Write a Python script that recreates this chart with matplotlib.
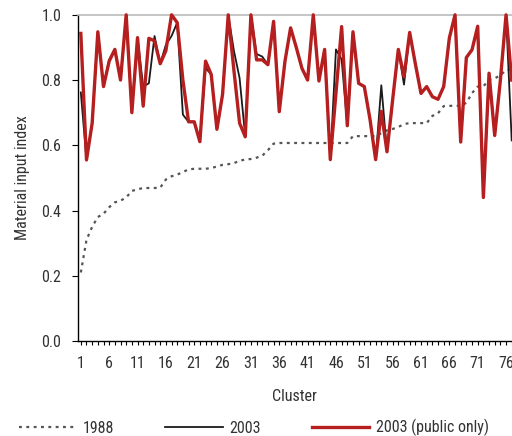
import matplotlib
matplotlib.use("Agg")
import matplotlib.pyplot as plt
from matplotlib import font_manager
from matplotlib.lines import Line2D

# pick a narrow sans if one is installed, otherwise fall back
names = {f.name for f in font_manager.fontManager.ttflist}
family = "DejaVu Sans"
for cand in ["Liberation Sans Narrow", "Roboto Condensed", "Open Sans Condensed", "Roboto"]:
    if cand in names:
        family = cand
        break
plt.rcParams["font.family"] = [family, "DejaVu Sans"]
plt.rcParams["font.size"] = 11.5

clusters = list(range(1, 78))

idx_1988 = [
    0.21, 0.31, 0.35, 0.38, 0.39, 0.41, 0.425, 0.43, 0.44, 0.46,
    0.465, 0.469, 0.469, 0.469, 0.47, 0.495, 0.505, 0.51, 0.518, 0.526,
    0.528, 0.528, 0.528, 0.53, 0.535, 0.54, 0.542, 0.545, 0.553, 0.556,
    0.558, 0.562, 0.568, 0.585, 0.605,
    0.607, 0.607, 0.607, 0.607, 0.607, 0.607, 0.607, 0.607, 0.607, 0.607,
    0.607, 0.607, 0.607,
    0.628, 0.628, 0.628, 0.628, 0.628,
    0.637, 0.646, 0.65, 0.656, 0.665,
    0.668, 0.668, 0.668, 0.668,
    0.69, 0.698, 0.72, 0.721, 0.721, 0.721, 0.73, 0.76, 0.78, 0.781,
    0.80, 0.805, 0.815, 0.83, 0.832,
]

idx_2003 = [
    0.762, 0.555, 0.668, 0.948, 0.78, 0.862, 0.894, 0.80, 1.0, 0.70,
    0.93, 0.78, 0.79, 0.935, 0.85, 0.908, 0.935, 0.976, 0.694, 0.672,
    0.672, 0.611, 0.837, 0.817, 0.649, 0.756, 1.0, 0.89, 0.806, 0.626,
    1.0, 0.88, 0.872, 0.847, 0.98, 0.703, 0.857, 0.96, 0.90, 0.836,
    0.80, 1.0, 0.797, 0.894, 0.556, 0.894, 0.863, 0.66, 0.948, 0.79,
    0.78, 0.68, 0.556, 0.784, 0.58, 0.74, 0.894, 0.786, 0.946, 0.85,
    0.759, 0.78, 0.749, 0.741, 0.78, 0.929, 1.0, 0.61, 0.869, 0.893,
    0.965, 0.44, 0.821, 0.63, 0.80, 1.0, 0.615,
]

idx_2003_public = [
    0.943, 0.555, 0.668, 0.948, 0.78, 0.858, 0.894, 0.80, 1.0, 0.70,
    0.93, 0.72, 0.928, 0.92, 0.85, 0.89, 1.0, 0.976, 0.80, 0.672,
    0.672, 0.611, 0.858, 0.817, 0.649, 0.756, 1.0, 0.83, 0.668, 0.626,
    1.0, 0.862, 0.862, 0.847, 0.98, 0.703, 0.857, 0.96, 0.90, 0.836,
    0.80, 1.0, 0.797, 0.894, 0.556, 0.76, 0.964, 0.66, 0.948, 0.79,
    0.78, 0.68, 0.556, 0.704, 0.58, 0.74, 0.894, 0.81, 0.946, 0.85,
    0.759, 0.78, 0.749, 0.741, 0.78, 0.929, 1.0, 0.61, 0.869, 0.893,
    0.965, 0.44, 0.821, 0.63, 0.80, 1.0, 0.80,
]

col_1988 = "#555555"
col_2003 = "#1a1a1a"
col_pub = "#b51f1f"

fig = plt.figure(figsize=(5.12, 4.36), dpi=100)
ax = fig.add_axes([0.152, 0.218, 0.848, 0.748])

ax.plot(clusters, idx_1988, color=col_1988, lw=1.6, linestyle=(0, (1.3, 2.0)), clip_on=False, zorder=3)
ax.plot(clusters, idx_2003, color=col_2003, lw=1.3, clip_on=False, zorder=3)
ax.plot(clusters, idx_2003_public, color=col_pub, lw=2.4, clip_on=False, zorder=4)

ax.set_xlim(0.47, 77.05)
ax.set_ylim(0, 1.0)
ax.set_xticks(range(1, 78, 5))
ax.set_xticks(range(1, 78), minor=True)
ax.set_yticks([0, 0.2, 0.4, 0.6, 0.8, 1.0])
ax.set_yticklabels(["0.0", "0.2", "0.4", "0.6", "0.8", "1.0"])
ax.tick_params(axis="x", which="both", direction="out", length=3, width=0.8, pad=8, colors="black", labelcolor="#333333")
ax.tick_params(axis="y", direction="out", length=4, width=0.8, pad=8, labelcolor="#333333")

ax.spines["right"].set_visible(False)
ax.spines["top"].set_color("#bbbbbb")
ax.spines["top"].set_linewidth(1.2)
ax.spines["left"].set_linewidth(1.0)
ax.spines["bottom"].set_linewidth(1.0)

ax.set_xlabel("Cluster", labelpad=13, color="#333333")
ax.set_ylabel("Material input index", labelpad=8, color="#333333")

handles = [
    Line2D([], [], color=col_1988, lw=1.6, linestyle=(0, (1.3, 2.0))),
    Line2D([], [], color=col_2003, lw=1.3),
    Line2D([], [], color=col_pub, lw=2.4),
]
fig.legend(handles, ["1988", "2003", "2003 (public only)"], loc="center left",
           bbox_to_anchor=(0.037, 0.019), ncol=3, frameon=False,
           handlelength=3.6, handletextpad=0.4, columnspacing=3.2,
           borderaxespad=0, borderpad=0, labelcolor="#333333")

fig.savefig("out.png", dpi=100)
